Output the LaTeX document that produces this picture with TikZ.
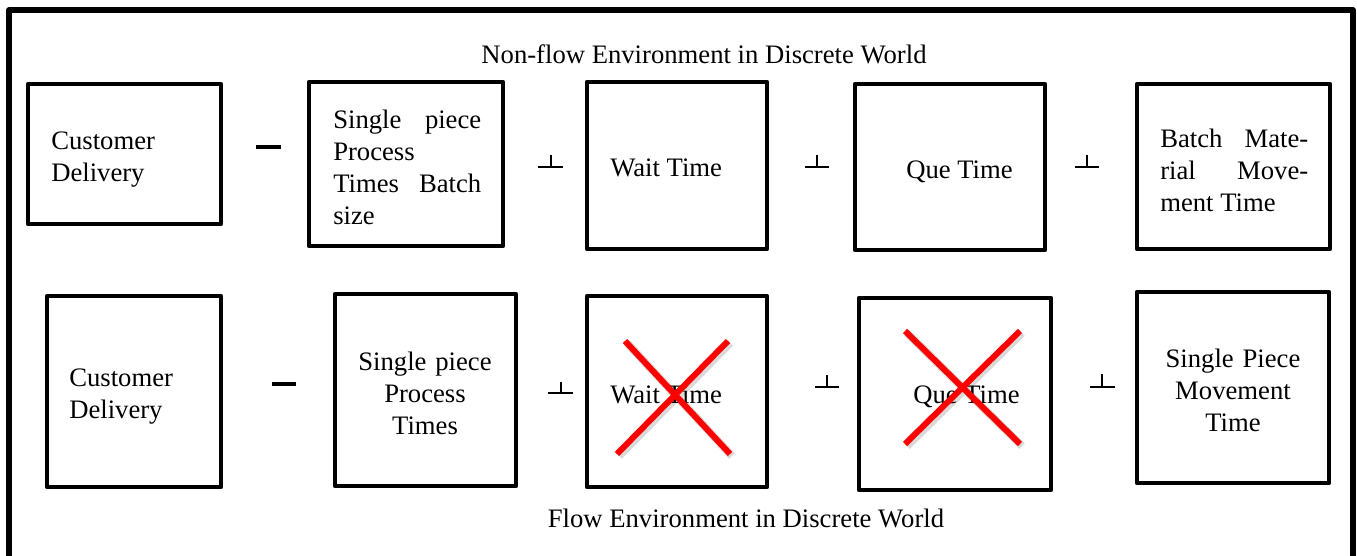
\documentclass[tikz,border=0pt]{standalone}
\usepackage{fontspec}
\setmainfont{Liberation Serif}
\usetikzlibrary{fit}
\begin{document}
\begin{tikzpicture}[x=0.75pt,y=-0.75pt,
  box/.style={draw, line width=3.4pt, line join=round, inner sep=0pt},
  txt/.style={inner sep=0pt, font=\fontsize{20pt}{24pt}\selectfont},
  lefttxt/.style={txt, anchor=base west, text width=#1, align=justify},
  ctrtxt/.style={txt, anchor=base, text width=#1, align=center},
  opline/.style={line width=2.1pt},
  minus/.style={line width=3pt},
  cross/.style={draw=red, line width=4.5pt},
  crossshadow/.style={draw=black, opacity=0.15, line width=6pt}]
\useasboundingbox (0,0) rectangle (1357,556);

% outer frame (open at the bottom)
\draw[line width=3.8pt, line join=round] (9,575) -- (9,10) -- (1353,10) -- (1353,575);

% headings
\node[txt, anchor=base] (top) at (704,64) {Non-flow Environment in Discrete World};
\node[txt, anchor=base] (bottom) at (746,527) {Flow Environment in Discrete World};

% non-flow row
\node[box, fit={(28,84) (221,224)}] (a1) {};
\node[box, fit={(309,82) (503,246)}] (a2) {};
\node[box, fit={(587,82) (767,249)}] (a3) {};
\node[box, fit={(855,84) (1045,250)}] (a4) {};
\node[box, fit={(1137,84) (1330,249)}] (a5) {};

\node[lefttxt=130pt] (ta1) at (51,150) {Customer\\Delivery};
\node[lefttxt=111pt] (ta2) at (333,129) {Single\hfill piece\\Process\\Times\hfill Batch\\size};
\node[txt, anchor=base west] (ta3) at (610,177) {Wait Time};
\node[txt, anchor=base west] (ta4) at (906,179) {Que Time};
\node[lefttxt=111pt] (ta5) at (1160,148) {Batch\hfill Mate-\\rial\hfill Move-\\ment Time};

% operators between the non-flow boxes
\draw[minus] (256,147) -- (281,147);
\draw[opline] (538,167) -- (563,167) (551,167) -- (551,155);
\draw[opline] (805,167) -- (829,167) (817,167) -- (817,155);
\draw[opline] (1075,167) -- (1099,167) (1087,167) -- (1087,155);

% flow row
\node[box, fit={(47,296) (221,487)}] (b1) {};
\node[box, fit={(335,294) (516,486)}] (b2) {};
\node[box, fit={(587,296) (767,487)}] (b3) {};
\node[box, fit={(859,298) (1051,490)}] (b4) {};
\node[box, fit={(1137,292) (1329,483)}] (b5) {};

\node[lefttxt=130pt] (tb1) at (69,386) {Customer\\Delivery};
\node[ctrtxt=130pt] (tb2) at (425,370) {Single piece\\Process\\Times};
\node[txt, anchor=base west] (tb3) at (610,403) {Wait Time};
\node[txt, anchor=base west] (tb4) at (913,403) {Que Time};
\node[ctrtxt=135pt] (tb5) at (1233,367) {Single Piece\\Movement\\Time};

% operators between the flow boxes
\draw[minus] (272,384) -- (296,384);
\draw[opline] (548,393) -- (573,393) (561,393) -- (561,382);
\draw[opline] (815,387) -- (839,387) (827,387) -- (827,375);
\draw[opline] (1090,387) -- (1115,387) (1102,387) -- (1102,374);

% crosses over the eliminated wait and queue times
\draw[crossshadow] (627,343) -- (732,456) (730,343) -- (619,456);
\draw[crossshadow] (907,333) -- (1022,446) (1022,333) -- (907,446);
\draw[cross] (625,341) -- (730,454) (728,341) -- (617,454);
\draw[cross] (905,331) -- (1020,444) (1020,331) -- (905,444);
\end{tikzpicture}
\end{document}
